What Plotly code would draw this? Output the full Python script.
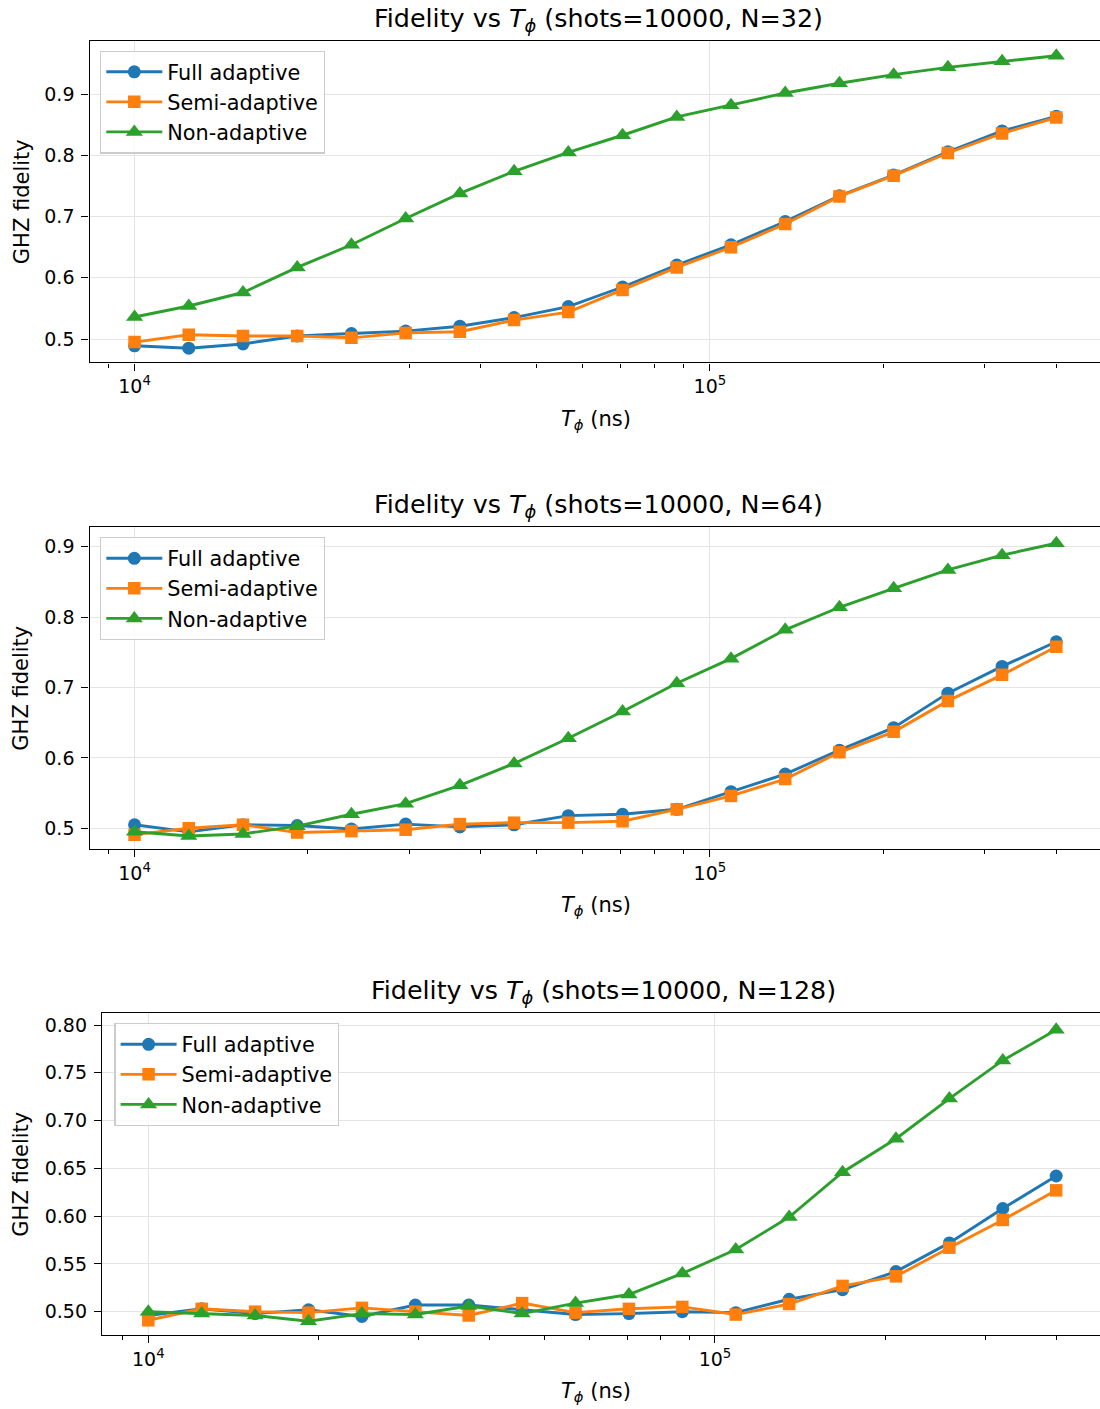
import plotly.graph_objects as go

# ---------------- data ----------------
t_phi = [10000, 12423, 15434, 19174, 23820, 29593, 36764, 45673, 56741,
         70495, 87579, 108800, 135170, 167930, 208620, 259170, 321980, 400000]

n32_full = [0.489, 0.485, 0.492, 0.505, 0.509, 0.513, 0.521, 0.535, 0.553,
            0.585, 0.621, 0.654, 0.692, 0.734, 0.768, 0.806, 0.840, 0.864]
n32_semi = [0.495, 0.507, 0.505, 0.505, 0.502, 0.510, 0.512, 0.531, 0.544,
            0.580, 0.617, 0.650, 0.688, 0.733, 0.767, 0.804, 0.836, 0.862]
n32_non = [0.536, 0.554, 0.576, 0.617, 0.654, 0.697, 0.738, 0.774, 0.805,
           0.833, 0.863, 0.882, 0.902, 0.918, 0.932, 0.944, 0.954, 0.963]

n64_full = [0.505, 0.495, 0.505, 0.504, 0.499, 0.506, 0.502, 0.505, 0.518,
            0.520, 0.527, 0.552, 0.577, 0.611, 0.643, 0.692, 0.730, 0.765]
n64_semi = [0.491, 0.500, 0.505, 0.494, 0.496, 0.498, 0.506, 0.508, 0.508,
            0.510, 0.527, 0.546, 0.570, 0.608, 0.637, 0.681, 0.718, 0.758]
n64_non = [0.495, 0.489, 0.492, 0.503, 0.520, 0.535, 0.561, 0.592, 0.628,
           0.666, 0.706, 0.741, 0.782, 0.814, 0.841, 0.867, 0.888, 0.905]

n128_full = [0.496, 0.503, 0.498, 0.502, 0.495, 0.507, 0.507, 0.502, 0.497,
             0.498, 0.500, 0.499, 0.513, 0.523, 0.542, 0.572, 0.608, 0.642]
n128_semi = [0.491, 0.503, 0.500, 0.499, 0.504, 0.500, 0.496, 0.509, 0.499,
             0.503, 0.505, 0.497, 0.508, 0.527, 0.537, 0.567, 0.596, 0.627]
n128_non = [0.500, 0.498, 0.496, 0.490, 0.498, 0.497, 0.506, 0.498, 0.509,
            0.518, 0.540, 0.565, 0.599, 0.646, 0.681, 0.723, 0.763, 0.795]

series_names = ["Full adaptive", "Semi-adaptive", "Non-adaptive"]
series_colors = ["#1f77b4", "#ff7f0e", "#2ca02c"]
series_symbols = ["circle", "square", "triangle-up"]
series_sizes = [13, 12.5, 15]

panel_N = [32, 64, 128]
panel_data = [
    [n32_full, n32_semi, n32_non],
    [n64_full, n64_semi, n64_non],
    [n128_full, n128_semi, n128_non],
]
minor_x = [9000, 20000, 30000, 40000, 50000, 60000, 70000, 80000, 90000,
           200000, 300000, 400000]
y_ticks_a = [0.5, 0.6, 0.7, 0.8, 0.9]
y_ticks_c = [0.50, 0.55, 0.60, 0.65, 0.70, 0.75, 0.80]

# ---------------- layout geometry (pixels) ----------------
W, H = 1100, 1409
FONT = "DejaVu Sans"


def px_x(x):
    return x / W


def px_y(y):
    return 1 - y / H


panels = [
    dict(left=89.5, top=41, bottom=362.3, xr=[3.9217, 5.678], yr=[0.462, 0.987],
         yt=y_ticks_a, yfmt=".1f", title_x=598.8, title_y=19, xlab_y=420,
         leg=(100, 50.5)),
    dict(left=89.5, top=527.3, bottom=849, xr=[3.9217, 5.678], yr=[0.4706, 0.9276],
         yt=y_ticks_a, yfmt=".1f", title_x=598.8, title_y=505.5, xlab_y=906,
         leg=(100, 537)),
    dict(left=102, top=1013.3, bottom=1335, xr=[3.9183, 5.6794], yr=[0.4756, 0.8123],
         yt=y_ticks_c, yfmt=".2f", title_x=603.5, title_y=991.5, xlab_y=1392,
         leg=(114.3, 1023)),
]

fig = go.Figure()
annotations = []
layout_kw = {}

for i, (p, N, data) in enumerate(zip(panels, panel_N, panel_data)):
    idx = "" if i == 0 else str(i + 1)
    legname = "legend" + idx
    for j in range(3):
        fig.add_trace(go.Scatter(
            x=t_phi, y=data[j], mode="lines+markers", name=series_names[j],
            line=dict(color=series_colors[j], width=2.9),
            marker=dict(symbol=series_symbols[j], size=series_sizes[j],
                        color=series_colors[j], line=dict(width=0)),
            xaxis="x" + idx, yaxis="y" + idx, legend=legname,
            legendgroup=f"p{i}s{j}",
        ))

    layout_kw["xaxis" + idx] = dict(
        type="log", range=p["xr"], domain=[px_x(p["left"]), 1.0],
        anchor="y" + idx,
        tickmode="array", tickvals=[1e4, 1e5],
        ticktext=["10<sup>4</sup>", "10<sup>5</sup>"],
        ticks="outside", ticklen=7, tickwidth=1.4, tickcolor="black",
        tickfont=dict(family=FONT, size=19, color="black"),
        showline=True, linecolor="black", linewidth=1.4, mirror=True,
        showgrid=True, gridcolor="#e4e4e4", gridwidth=1.3,
        zeroline=False,
        minor=dict(tickmode="array", tickvals=minor_x, ticks="outside",
                   ticklen=4, tickwidth=1.1, tickcolor="black", showgrid=False),
    )
    layout_kw["yaxis" + idx] = dict(
        range=p["yr"], domain=[px_y(p["bottom"]), px_y(p["top"])],
        anchor="x" + idx,
        tickmode="array", tickvals=p["yt"],
        ticktext=[format(v, p["yfmt"]) for v in p["yt"]],
        ticks="outside", ticklen=7, tickwidth=1.4, tickcolor="black",
        tickfont=dict(family=FONT, size=19, color="black"),
        ticklabelstandoff=3,
        showline=True, linecolor="black", linewidth=1.4, mirror=False,
        showgrid=True, gridcolor="#e4e4e4", gridwidth=1.3,
        zeroline=False,
    )
    layout_kw[legname] = dict(
        x=px_x(p["leg"][0]), y=px_y(p["leg"][1]), xanchor="left", yanchor="top",
        bgcolor="rgba(255,255,255,0.8)", bordercolor="#cccccc", borderwidth=1.3,
        font=dict(family=FONT, size=20.8, color="black"),
        itemwidth=56, tracegroupgap=0, traceorder="grouped",
        itemclick=False, itemdoubleclick=False,
    )

    # title
    annotations.append(dict(
        text=f"Fidelity vs <i>T</i><sub><i>ϕ</i></sub> (shots=10000, N={N})",
        x=px_x(p["title_x"]), y=px_y(p["title_y"]), xref="paper", yref="paper",
        xanchor="center", yanchor="middle", showarrow=False,
        font=dict(family=FONT, size=25.4, color="black"),
    ))
    # x label
    annotations.append(dict(
        text="<i>T</i><sub><i>ϕ</i></sub> (ns)",
        x=px_x(596), y=px_y(p["xlab_y"]), xref="paper", yref="paper",
        xanchor="center", yanchor="middle", showarrow=False,
        font=dict(family=FONT, size=21, color="black"),
    ))
    # y label
    annotations.append(dict(
        text="GHZ fidelity", textangle=-90,
        x=px_x(21.5), y=px_y((p["top"] + p["bottom"]) / 2),
        xref="paper", yref="paper", xanchor="center", yanchor="middle",
        showarrow=False,
        font=dict(family=FONT, size=21, color="black"),
    ))

fig.update_layout(
    width=W, height=H, template="none",
    margin=dict(l=0, r=0, t=0, b=0, autoexpand=False),
    paper_bgcolor="white", plot_bgcolor="white",
    font=dict(family=FONT, color="black"),
    showlegend=True,
    annotations=annotations,
    **layout_kw,
)

fig.write_html("out.html")
